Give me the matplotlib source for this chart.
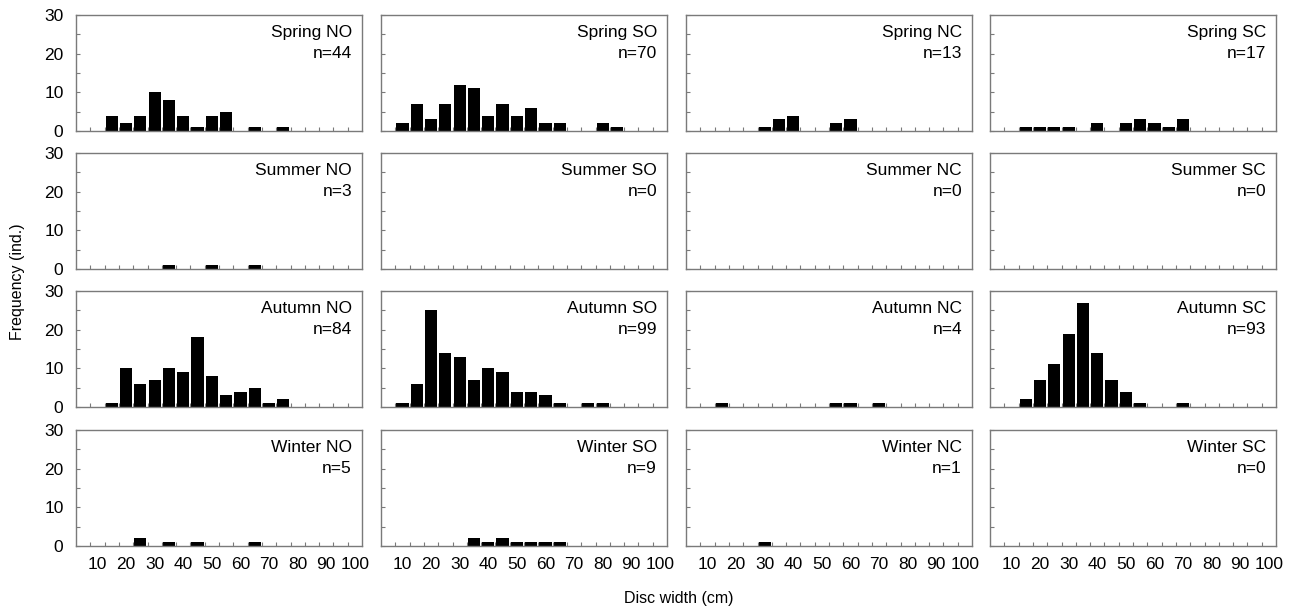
import matplotlib.pyplot as plt
import numpy as np

plt.rcParams['font.family'] = ['Liberation Sans', 'DejaVu Sans']

# bin centres (cm), one category every 5 cm
bin_centers = [5, 10, 15, 20, 25, 30, 35, 40, 45, 50, 55, 60, 65, 70, 75, 80, 85, 90, 95, 100]
x_labels = ['10', '20', '30', '40', '50', '60', '70', '80', '90', '100']

seasons = ['Spring', 'Summer', 'Autumn', 'Winter']
areas = ['NO', 'SO', 'NC', 'SC']

spring_no = [0, 0, 4, 2, 4, 10, 8, 4, 1, 4, 5, 0, 1, 0, 1, 0, 0, 0, 0, 0]
spring_so = [0, 2, 7, 3, 7, 12, 11, 4, 7, 4, 6, 2, 2, 0, 0, 2, 1, 0, 0, 0]
spring_nc = [0, 0, 0, 0, 0, 1, 3, 4, 0, 0, 2, 3, 0, 0, 0, 0, 0, 0, 0, 0]
spring_sc = [0, 0, 1, 1, 1, 1, 0, 2, 0, 2, 3, 2, 1, 3, 0, 0, 0, 0, 0, 0]

summer_no = [0, 0, 0, 0, 0, 0, 1, 0, 0, 1, 0, 0, 1, 0, 0, 0, 0, 0, 0, 0]
summer_so = [0] * 20
summer_nc = [0] * 20
summer_sc = [0] * 20

autumn_no = [0, 0, 1, 10, 6, 7, 10, 9, 18, 8, 3, 4, 5, 1, 2, 0, 0, 0, 0, 0]
autumn_so = [0, 1, 6, 25, 14, 13, 7, 10, 9, 4, 4, 3, 1, 0, 1, 1, 0, 0, 0, 0]
autumn_nc = [0, 0, 1, 0, 0, 0, 0, 0, 0, 0, 1, 1, 0, 1, 0, 0, 0, 0, 0, 0]
autumn_sc = [0, 0, 2, 7, 11, 19, 27, 14, 7, 4, 1, 0, 0, 1, 0, 0, 0, 0, 0, 0]

winter_no = [0, 0, 0, 0, 2, 0, 1, 0, 1, 0, 0, 0, 1, 0, 0, 0, 0, 0, 0, 0]
winter_so = [0, 0, 0, 0, 0, 0, 2, 1, 2, 1, 1, 1, 1, 0, 0, 0, 0, 0, 0, 0]
winter_nc = [0, 0, 0, 0, 0, 1, 0, 0, 0, 0, 0, 0, 0, 0, 0, 0, 0, 0, 0, 0]
winter_sc = [0] * 20

counts = [
    [spring_no, spring_so, spring_nc, spring_sc],
    [summer_no, summer_so, summer_nc, summer_sc],
    [autumn_no, autumn_so, autumn_nc, autumn_sc],
    [winter_no, winter_so, winter_nc, winter_sc],
]

W, H = 1292, 612
fig = plt.figure(figsize=(W / 100, H / 100), dpi=100)

# panel geometry in pixels
col_left = [76, 381, 686, 990]
panel_w = 286
row_top = [15, 153, 291, 430]
panel_h = 116
spine_color = '#7a7a7a'

for r in range(4):
    for c in range(4):
        ax = fig.add_axes([col_left[c] / W, 1 - (row_top[r] + panel_h) / H,
                           panel_w / W, panel_h / H])
        vals = counts[r][c]
        ax.bar(bin_centers, vals, width=4.3, color='black', linewidth=0)
        ax.set_xlim(2.5, 102.5)
        ax.set_ylim(0, 30)

        for s in ax.spines.values():
            s.set_color(spine_color)
            s.set_linewidth(1.0)

        # category boundaries as small inward ticks, labels on categories
        ax.set_xticks(np.arange(7.5, 100, 5), minor=True)
        ax.set_xticks(np.arange(10, 101, 10))
        ax.tick_params(axis='x', which='minor', direction='in', length=3,
                       color=spine_color, width=0.8)
        ax.tick_params(axis='x', which='major', length=0, pad=8,
                       labelsize=12.5)
        ax.set_yticks([0, 10, 20, 30])
        ax.set_yticks([5, 15, 25], minor=True)
        ax.tick_params(axis='y', which='both', direction='in', length=3,
                       color=spine_color, width=0.8, labelsize=12.5, pad=9)

        if r == 3:
            ax.set_xticklabels(x_labels)
        else:
            ax.set_xticklabels([])
        if c != 0:
            ax.set_yticklabels([])

        n = sum(vals)
        ax.text(0.965, 0.845, f'{seasons[r]} {areas[c]}', transform=ax.transAxes,
                ha='right', va='center', fontsize=12.5)
        ax.text(0.965, 0.665, f'n={n}', transform=ax.transAxes,
                ha='right', va='center', fontsize=12.5)

fig.text(679 / W, 1 - 598 / H, 'Disc width (cm)', ha='center', va='center', fontsize=11.5)
fig.text(18 / W, 1 - 282 / H, 'Frequency (ind.)', ha='center', va='center',
         rotation=90, fontsize=11.5)

fig.savefig('out.png', dpi=100)
